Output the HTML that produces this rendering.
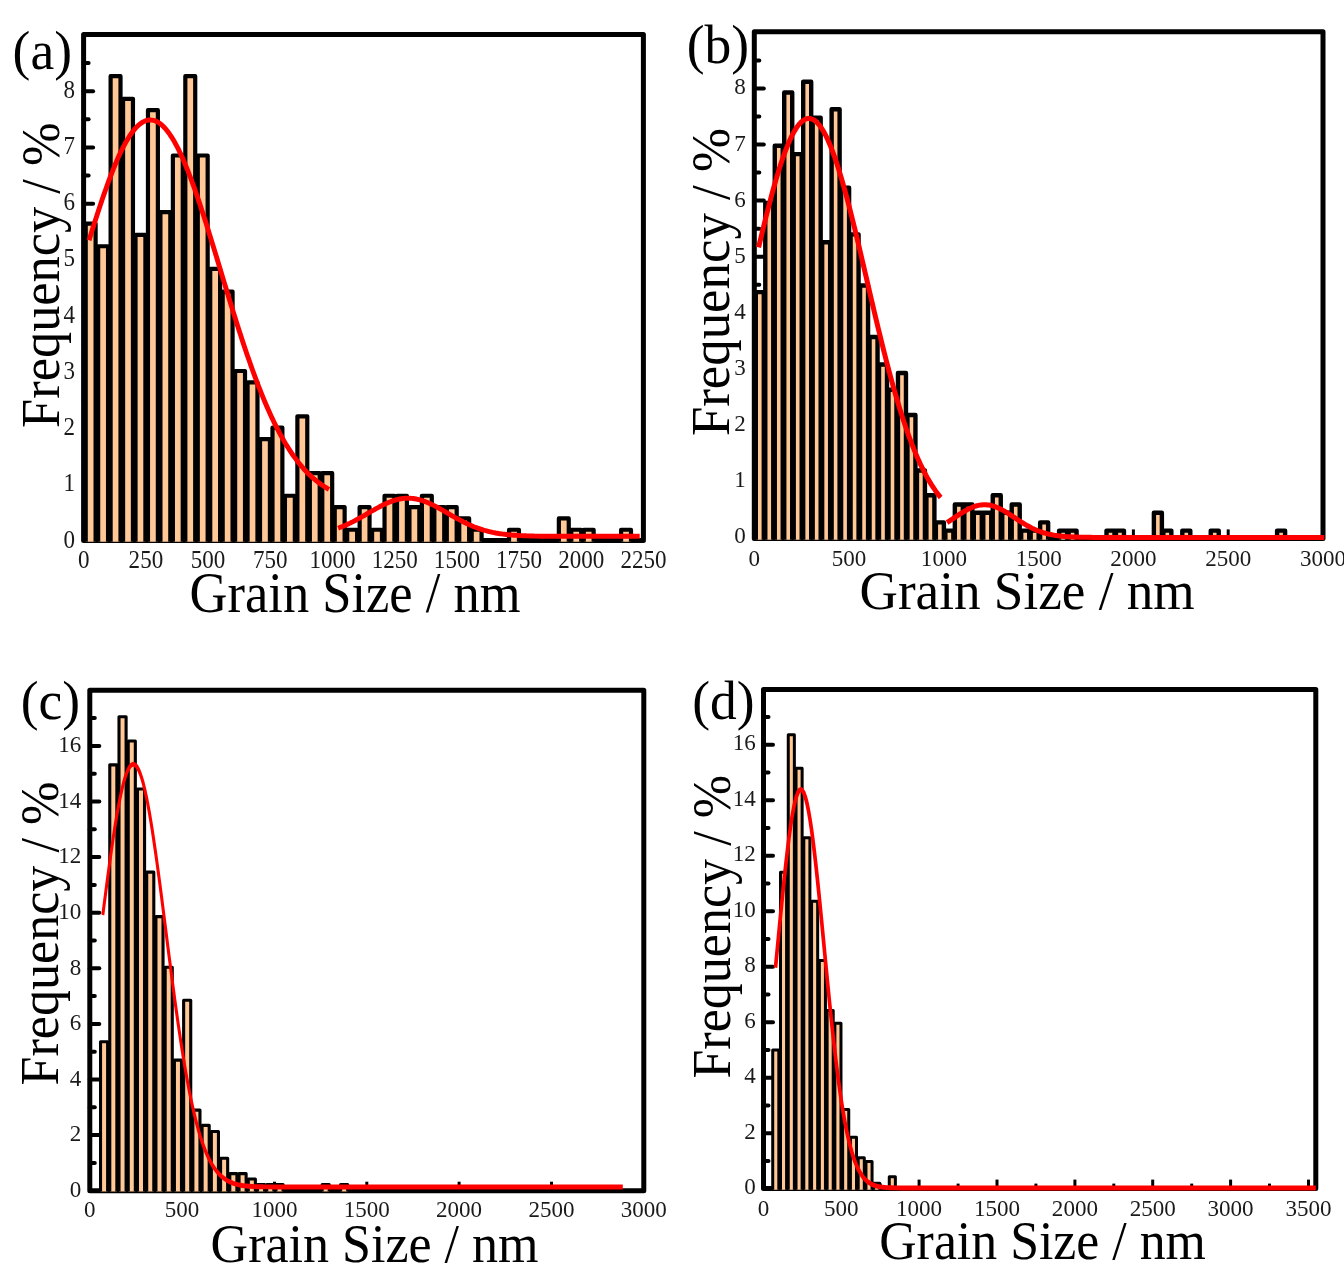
<!DOCTYPE html>
<html lang="en"><head><meta charset="utf-8"><title>Grain size distributions</title>
<style>html,body{margin:0;padding:0;background:#fff;overflow:hidden}svg{display:block}text{white-space:pre}</style>
</head><body>
<svg width="1344" height="1280" viewBox="0 0 1344 1280">
<rect width="1344" height="1280" fill="#fff"/>
<g stroke="#000" stroke-width="3" stroke-linecap="butt">
<line x1="145.9" y1="540.5" x2="145.9" y2="531.5"/>
<line x1="208.1" y1="540.5" x2="208.1" y2="531.5"/>
<line x1="270.3" y1="540.5" x2="270.3" y2="531.5"/>
<line x1="332.5" y1="540.5" x2="332.5" y2="531.5"/>
<line x1="394.7" y1="540.5" x2="394.7" y2="531.5"/>
<line x1="456.9" y1="540.5" x2="456.9" y2="531.5"/>
<line x1="519.1" y1="540.5" x2="519.1" y2="531.5"/>
<line x1="581.3" y1="540.5" x2="581.3" y2="531.5"/>
</g>
<g stroke="#000" stroke-width="4" stroke-linecap="round">
<line x1="83.6" y1="485.0" x2="93.1" y2="485.0"/>
<line x1="83.6" y1="428.7" x2="93.1" y2="428.7"/>
<line x1="83.6" y1="372.5" x2="93.1" y2="372.5"/>
<line x1="83.6" y1="316.2" x2="93.1" y2="316.2"/>
<line x1="83.6" y1="260.0" x2="93.1" y2="260.0"/>
<line x1="83.6" y1="203.7" x2="93.1" y2="203.7"/>
<line x1="83.6" y1="147.5" x2="93.1" y2="147.5"/>
<line x1="83.6" y1="91.2" x2="93.1" y2="91.2"/>
<line x1="83.6" y1="513.1" x2="88.6" y2="513.1"/>
<line x1="83.6" y1="456.8" x2="88.6" y2="456.8"/>
<line x1="83.6" y1="400.6" x2="88.6" y2="400.6"/>
<line x1="83.6" y1="344.3" x2="88.6" y2="344.3"/>
<line x1="83.6" y1="288.1" x2="88.6" y2="288.1"/>
<line x1="83.6" y1="231.8" x2="88.6" y2="231.8"/>
<line x1="83.6" y1="175.6" x2="88.6" y2="175.6"/>
<line x1="83.6" y1="119.3" x2="88.6" y2="119.3"/>
<line x1="83.6" y1="63.1" x2="88.6" y2="63.1"/>
</g>
<rect x="83.6" y="34.5" width="559.80" height="506.00" fill="none" stroke="#000" stroke-width="5.0" stroke-linejoin="round"/>
<clipPath id="clipa"><rect x="81.10" y="32.00" width="564.80" height="509.80"/></clipPath>
<g clip-path="url(#clipa)" fill="#ffc896" stroke="#000" stroke-width="4.2" stroke-linejoin="round">
<rect x="85.71" y="223.56" width="9.90" height="328.94"/>
<rect x="98.16" y="246.24" width="9.90" height="306.26"/>
<rect x="110.61" y="76.13" width="9.90" height="476.37"/>
<rect x="123.06" y="98.81" width="9.90" height="453.69"/>
<rect x="135.51" y="234.90" width="9.90" height="317.60"/>
<rect x="147.97" y="110.15" width="9.90" height="442.35"/>
<rect x="160.42" y="212.22" width="9.90" height="340.28"/>
<rect x="172.87" y="155.52" width="9.90" height="396.98"/>
<rect x="185.32" y="76.13" width="9.90" height="476.37"/>
<rect x="197.77" y="155.52" width="9.90" height="396.98"/>
<rect x="210.22" y="268.92" width="9.90" height="283.58"/>
<rect x="222.67" y="291.60" width="9.90" height="260.90"/>
<rect x="235.12" y="370.99" width="9.90" height="181.51"/>
<rect x="247.57" y="382.33" width="9.90" height="170.17"/>
<rect x="260.02" y="439.03" width="9.90" height="113.47"/>
<rect x="272.48" y="427.69" width="9.90" height="124.81"/>
<rect x="284.93" y="495.74" width="9.90" height="56.76"/>
<rect x="297.38" y="416.35" width="9.90" height="136.15"/>
<rect x="309.83" y="473.06" width="9.90" height="79.44"/>
<rect x="322.28" y="473.06" width="9.90" height="79.44"/>
<rect x="334.73" y="507.08" width="9.90" height="45.42"/>
<rect x="347.18" y="529.76" width="9.90" height="22.74"/>
<rect x="359.63" y="507.08" width="9.90" height="45.42"/>
<rect x="372.08" y="529.76" width="9.90" height="22.74"/>
<rect x="384.53" y="495.74" width="9.90" height="56.76"/>
<rect x="396.99" y="495.74" width="9.90" height="56.76"/>
<rect x="409.44" y="507.08" width="9.90" height="45.42"/>
<rect x="421.89" y="495.74" width="9.90" height="56.76"/>
<rect x="434.34" y="507.08" width="9.90" height="45.42"/>
<rect x="446.79" y="507.08" width="9.90" height="45.42"/>
<rect x="459.24" y="518.42" width="9.90" height="34.08"/>
<rect x="471.69" y="529.76" width="9.90" height="22.74"/>
<rect x="509.04" y="529.76" width="9.90" height="22.74"/>
<rect x="558.85" y="518.42" width="9.90" height="34.08"/>
<rect x="571.30" y="529.76" width="9.90" height="22.74"/>
<rect x="583.75" y="529.76" width="9.90" height="22.74"/>
<rect x="621.10" y="529.76" width="9.90" height="22.74"/>
</g>
<g transform="scale(1.0,1)" fill="none" stroke="#ff0000" stroke-width="4.9" stroke-linecap="butt" stroke-linejoin="round">
<path d="M89.10,240.3 L90.60,235.4 L92.10,230.6 L93.60,225.8 L95.10,221.1 L96.60,216.4 L98.10,211.8 L99.60,207.2 L101.10,202.7 L102.60,198.3 L104.10,193.9 L105.60,189.7 L107.10,185.5 L108.60,181.4 L110.10,177.4 L111.60,173.5 L113.10,169.7 L114.60,166.0 L116.10,162.4 L117.60,158.9 L119.10,155.6 L120.60,152.4 L122.10,149.3 L123.60,146.4 L125.10,143.6 L126.60,140.9 L128.10,138.4 L129.60,136.0 L131.10,133.8 L132.60,131.8 L134.10,129.9 L135.60,128.1 L137.10,126.5 L138.60,125.1 L140.10,123.9 L141.60,122.8 L143.10,121.9 L144.60,121.2 L146.10,120.6 L147.60,120.2 L149.10,120.0 L150.60,119.9 L152.10,120.1 L153.60,120.4 L155.10,120.8 L156.60,121.5 L158.10,122.3 L159.60,123.3 L161.10,124.4 L162.60,125.8 L164.10,127.3 L165.60,128.9 L167.10,130.7 L168.60,132.7 L170.10,134.8 L171.60,137.1 L173.10,139.6 L174.60,142.1 L176.10,144.9 L177.60,147.7 L179.10,150.7 L180.60,153.9 L182.10,157.1 L183.60,160.5 L185.10,164.1 L186.60,167.7 L188.10,171.4 L189.60,175.3 L191.10,179.2 L192.60,183.3 L194.10,187.4 L195.60,191.7 L197.10,196.0 L198.60,200.4 L200.10,204.8 L201.60,209.4 L203.10,214.0 L204.60,218.6 L206.10,223.3 L207.60,228.1 L209.10,232.9 L210.60,237.7 L212.10,242.6 L213.60,247.5 L215.10,252.4 L216.60,257.3 L218.10,262.3 L219.60,267.2 L221.10,272.2 L222.60,277.1 L224.10,282.1 L225.60,287.0 L227.10,292.0 L228.60,296.9 L230.10,301.8 L231.60,306.6 L233.10,311.5 L234.60,316.3 L236.10,321.1 L237.60,325.8 L239.10,330.5 L240.60,335.1 L242.10,339.7 L243.60,344.3 L245.10,348.7 L246.60,353.2 L248.10,357.5 L249.60,361.8 L251.10,366.1 L252.60,370.3 L254.10,374.4 L255.60,378.4 L257.10,382.4 L258.60,386.3 L260.10,390.2 L261.60,393.9 L263.10,397.6 L264.60,401.2 L266.10,404.7 L267.60,408.2 L269.10,411.6 L270.60,414.9 L272.10,418.1 L273.60,421.3 L275.10,424.3 L276.60,427.3 L278.10,430.2 L279.60,433.1 L281.10,435.8 L282.60,438.5 L284.10,441.1 L285.60,443.7 L287.10,446.1 L288.60,448.5 L290.10,450.8 L291.60,453.1 L293.10,455.3 L294.60,457.4 L296.10,459.4 L297.60,461.4 L299.10,463.3 L300.60,465.1 L302.10,466.9 L303.60,468.6 L305.10,470.3 L306.60,471.9 L308.10,473.4 L309.60,474.9 L311.10,476.3 L312.60,477.7 L314.10,479.0 L315.60,480.2 L317.10,481.4 L318.60,482.6 L320.10,483.7 L321.60,484.8 L323.10,485.8 L324.60,486.8 L326.10,487.7 L327.60,488.6 L329.00,489.4"/>
<path d="M338.10,528.2 L339.60,527.6 L341.10,527.0 L342.60,526.4 L344.10,525.8 L345.60,525.2 L347.10,524.5 L348.60,523.8 L350.10,523.1 L351.60,522.3 L353.10,521.6 L354.60,520.8 L356.10,520.0 L357.60,519.2 L359.10,518.4 L360.60,517.5 L362.10,516.7 L363.60,515.8 L365.10,515.0 L366.60,514.1 L368.10,513.2 L369.60,512.4 L371.10,511.5 L372.60,510.6 L374.10,509.8 L375.60,508.9 L377.10,508.1 L378.60,507.3 L380.10,506.5 L381.60,505.7 L383.10,504.9 L384.60,504.2 L386.10,503.5 L387.60,502.9 L389.10,502.2 L390.60,501.7 L392.10,501.1 L393.60,500.6 L395.10,500.1 L396.60,499.7 L398.10,499.3 L399.60,499.0 L401.10,498.8 L402.60,498.5 L404.10,498.4 L405.60,498.3 L407.10,498.2 L408.60,498.2 L410.10,498.3 L411.60,498.4 L413.10,498.5 L414.60,498.7 L416.10,499.0 L417.60,499.3 L419.10,499.7 L420.60,500.1 L422.10,500.5 L423.60,501.1 L425.10,501.6 L426.60,502.2 L428.10,502.8 L429.60,503.5 L431.10,504.2 L432.60,504.9 L434.10,505.6 L435.60,506.4 L437.10,507.2 L438.60,508.0 L440.10,508.8 L441.60,509.7 L443.10,510.5 L444.60,511.4 L446.10,512.3 L447.60,513.2 L449.10,514.0 L450.60,514.9 L452.10,515.8 L453.60,516.6 L455.10,517.5 L456.60,518.3 L458.10,519.1 L459.60,519.9 L461.10,520.7 L462.60,521.5 L464.10,522.3 L465.60,523.0 L467.10,523.7 L468.60,524.4 L470.10,525.1 L471.60,525.7 L473.10,526.4 L474.60,527.0 L476.10,527.5 L477.60,528.1 L479.10,528.6 L480.60,529.1 L482.10,529.6 L483.60,530.1 L485.10,530.5 L486.60,530.9 L488.10,531.3 L489.60,531.7 L491.10,532.0 L492.60,532.4 L494.10,532.7 L495.60,533.0 L497.10,533.2 L498.60,533.5 L500.10,533.7 L501.60,533.9 L503.10,534.1 L504.60,534.3 L506.10,534.5 L507.60,534.7 L509.10,534.8 L510.60,534.9 L512.10,535.1 L513.60,535.2 L515.10,535.3 L516.60,535.4 L518.10,535.5 L519.60,535.6 L521.10,535.6 L522.60,535.7 L524.10,535.8 L525.60,535.8 L527.10,535.9 L528.60,535.9 L530.10,536.0 L531.60,536.0 L533.10,536.0 L534.60,536.1 L536.10,536.1 L537.60,536.1 L539.10,536.1 L540.60,536.2 L542.10,536.2 L543.60,536.2 L545.10,536.2 L546.60,536.2 L548.10,536.2 L549.60,536.2 L551.10,536.2 L552.60,536.2 L554.10,536.3 L555.60,536.3 L557.10,536.3 L558.60,536.3 L560.10,536.3 L561.60,536.3 L563.10,536.3 L564.60,536.3 L566.10,536.3 L567.60,536.3 L569.10,536.3 L570.60,536.3 L572.10,536.3 L573.60,536.3 L575.10,536.3 L576.60,536.3 L578.10,536.3 L579.60,536.3 L581.10,536.3 L582.60,536.3 L584.10,536.3 L585.60,536.3 L587.10,536.3 L588.60,536.3 L590.10,536.3 L591.60,536.3 L593.10,536.3 L594.60,536.3 L596.10,536.3 L597.60,536.3 L599.10,536.3 L600.60,536.3 L602.10,536.3 L603.60,536.3 L605.10,536.3 L606.60,536.3 L608.10,536.3 L609.60,536.3 L611.10,536.3 L612.60,536.3 L614.10,536.3 L615.60,536.3 L617.10,536.3 L618.60,536.3 L620.10,536.3 L621.60,536.3 L623.10,536.3 L624.60,536.3 L626.10,536.3 L627.60,536.3 L629.10,536.3 L630.60,536.3 L632.10,536.3 L633.60,536.3 L635.10,536.3 L636.60,536.3 L638.10,536.3 L639.60,536.3 L639.70,536.3"/>
</g>
<g font-family='"Liberation Serif", serif' font-size="23.4" fill="#1a1a1a">
<text transform="translate(75.1,547.5) scale(0.985,1.04)" text-anchor="end">0</text>
<text transform="translate(75.1,491.3) scale(0.985,1.04)" text-anchor="end">1</text>
<text transform="translate(75.1,435.0) scale(0.985,1.04)" text-anchor="end">2</text>
<text transform="translate(75.1,378.8) scale(0.985,1.04)" text-anchor="end">3</text>
<text transform="translate(75.1,322.5) scale(0.985,1.04)" text-anchor="end">4</text>
<text transform="translate(75.1,266.3) scale(0.985,1.04)" text-anchor="end">5</text>
<text transform="translate(75.1,210.0) scale(0.985,1.04)" text-anchor="end">6</text>
<text transform="translate(75.1,153.8) scale(0.985,1.04)" text-anchor="end">7</text>
<text transform="translate(75.1,97.5) scale(0.985,1.04)" text-anchor="end">8</text>
<text transform="translate(83.7,568.3) scale(0.985,1.04)" text-anchor="middle">0</text>
<text transform="translate(145.9,568.3) scale(0.985,1.04)" text-anchor="middle">250</text>
<text transform="translate(208.1,568.3) scale(0.985,1.04)" text-anchor="middle">500</text>
<text transform="translate(270.3,568.3) scale(0.985,1.04)" text-anchor="middle">750</text>
<text transform="translate(332.5,568.3) scale(0.985,1.04)" text-anchor="middle">1000</text>
<text transform="translate(394.7,568.3) scale(0.985,1.04)" text-anchor="middle">1250</text>
<text transform="translate(456.9,568.3) scale(0.985,1.04)" text-anchor="middle">1500</text>
<text transform="translate(519.1,568.3) scale(0.985,1.04)" text-anchor="middle">1750</text>
<text transform="translate(581.3,568.3) scale(0.985,1.04)" text-anchor="middle">2000</text>
<text transform="translate(643.5,568.3) scale(0.985,1.04)" text-anchor="middle">2250</text>
</g>
<text transform="translate(12.6,68.5) scale(1,1.0125)" font-family='"Liberation Serif", serif' font-size="53.5" text-anchor="start" fill="#000">(a)</text>
<text transform="translate(189.6,611.8) scale(1.002,1.085)" font-family='"Liberation Serif", serif' font-size="52.4" text-anchor="start" fill="#000">Grain Size / nm</text>
<text transform="translate(58.8,427.9) rotate(-90) scale(1.0,1.03)" font-family='"Liberation Serif", serif' font-size="52.4" text-anchor="start" fill="#000">Frequency / %</text>
<g stroke="#000" stroke-width="3" stroke-linecap="butt">
<line x1="849.1" y1="538.4" x2="849.1" y2="529.4"/>
<line x1="943.9" y1="538.4" x2="943.9" y2="529.4"/>
<line x1="1038.7" y1="538.4" x2="1038.7" y2="529.4"/>
<line x1="1133.4" y1="538.4" x2="1133.4" y2="529.4"/>
<line x1="1228.2" y1="538.4" x2="1228.2" y2="529.4"/>
</g>
<g stroke="#000" stroke-width="4" stroke-linecap="round">
<line x1="754.3" y1="481.1" x2="763.8" y2="481.1"/>
<line x1="754.3" y1="425.0" x2="763.8" y2="425.0"/>
<line x1="754.3" y1="368.9" x2="763.8" y2="368.9"/>
<line x1="754.3" y1="312.8" x2="763.8" y2="312.8"/>
<line x1="754.3" y1="256.7" x2="763.8" y2="256.7"/>
<line x1="754.3" y1="200.6" x2="763.8" y2="200.6"/>
<line x1="754.3" y1="144.5" x2="763.8" y2="144.5"/>
<line x1="754.3" y1="88.4" x2="763.8" y2="88.4"/>
<line x1="754.3" y1="509.2" x2="759.3" y2="509.2"/>
<line x1="754.3" y1="453.1" x2="759.3" y2="453.1"/>
<line x1="754.3" y1="397.0" x2="759.3" y2="397.0"/>
<line x1="754.3" y1="340.9" x2="759.3" y2="340.9"/>
<line x1="754.3" y1="284.8" x2="759.3" y2="284.8"/>
<line x1="754.3" y1="228.7" x2="759.3" y2="228.7"/>
<line x1="754.3" y1="172.6" x2="759.3" y2="172.6"/>
<line x1="754.3" y1="116.5" x2="759.3" y2="116.5"/>
<line x1="754.3" y1="60.4" x2="759.3" y2="60.4"/>
</g>
<rect x="754.3" y="31.8" width="568.70" height="506.60" fill="none" stroke="#000" stroke-width="5.0" stroke-linejoin="round"/>
<clipPath id="clipb"><rect x="751.80" y="29.30" width="573.70" height="510.40"/></clipPath>
<g clip-path="url(#clipb)" fill="#ffc896" stroke="#000" stroke-width="4.4" stroke-linejoin="round">
<rect x="755.80" y="292.17" width="8.00" height="258.23"/>
<rect x="765.28" y="202.97" width="8.00" height="347.43"/>
<rect x="774.76" y="145.74" width="8.00" height="404.66"/>
<rect x="784.23" y="92.45" width="8.00" height="457.95"/>
<rect x="793.71" y="154.16" width="8.00" height="396.24"/>
<rect x="803.19" y="81.79" width="8.00" height="468.61"/>
<rect x="812.67" y="117.69" width="8.00" height="432.71"/>
<rect x="822.15" y="242.24" width="8.00" height="308.16"/>
<rect x="831.62" y="109.28" width="8.00" height="441.12"/>
<rect x="841.10" y="187.82" width="8.00" height="362.58"/>
<rect x="850.58" y="234.38" width="8.00" height="316.02"/>
<rect x="860.06" y="285.43" width="8.00" height="264.97"/>
<rect x="869.54" y="337.05" width="8.00" height="213.35"/>
<rect x="879.01" y="364.53" width="8.00" height="185.87"/>
<rect x="888.49" y="389.78" width="8.00" height="160.62"/>
<rect x="897.97" y="372.95" width="8.00" height="177.45"/>
<rect x="907.45" y="415.02" width="8.00" height="135.38"/>
<rect x="916.93" y="470.56" width="8.00" height="79.84"/>
<rect x="926.40" y="495.19" width="8.00" height="55.21"/>
<rect x="935.88" y="522.40" width="8.00" height="28.00"/>
<rect x="945.36" y="530.59" width="8.00" height="19.81"/>
<rect x="954.84" y="504.50" width="8.00" height="45.90"/>
<rect x="964.32" y="504.50" width="8.00" height="45.90"/>
<rect x="973.79" y="512.69" width="8.00" height="37.71"/>
<rect x="983.27" y="512.69" width="8.00" height="37.71"/>
<rect x="992.75" y="495.19" width="8.00" height="55.21"/>
<rect x="1002.23" y="512.69" width="8.00" height="37.71"/>
<rect x="1011.71" y="504.50" width="8.00" height="45.90"/>
<rect x="1021.18" y="530.59" width="8.00" height="19.81"/>
<rect x="1030.66" y="530.59" width="8.00" height="19.81"/>
<rect x="1040.14" y="522.40" width="8.00" height="28.00"/>
<rect x="1059.10" y="530.59" width="8.00" height="19.81"/>
<rect x="1068.57" y="530.59" width="8.00" height="19.81"/>
<rect x="1106.49" y="530.59" width="8.00" height="19.81"/>
<rect x="1115.96" y="530.59" width="8.00" height="19.81"/>
<rect x="1153.88" y="512.69" width="8.00" height="37.71"/>
<rect x="1163.35" y="530.59" width="8.00" height="19.81"/>
<rect x="1182.31" y="530.59" width="8.00" height="19.81"/>
<rect x="1210.74" y="530.59" width="8.00" height="19.81"/>
<rect x="1277.09" y="530.59" width="8.00" height="19.81"/>
</g>
<g transform="scale(1.0,1)" fill="none" stroke="#ff0000" stroke-width="5.0" stroke-linecap="butt" stroke-linejoin="round">
<path d="M758.60,247.4 L760.10,241.1 L761.60,234.8 L763.10,228.6 L764.60,222.5 L766.10,216.5 L767.60,210.6 L769.10,204.8 L770.60,199.1 L772.10,193.5 L773.60,188.0 L775.10,182.7 L776.60,177.6 L778.10,172.6 L779.60,167.8 L781.10,163.1 L782.60,158.7 L784.10,154.4 L785.60,150.4 L787.10,146.6 L788.60,142.9 L790.10,139.6 L791.60,136.4 L793.10,133.5 L794.60,130.8 L796.10,128.4 L797.60,126.2 L799.10,124.3 L800.60,122.7 L802.10,121.3 L803.60,120.2 L805.10,119.4 L806.60,118.8 L808.10,118.5 L809.60,118.5 L811.10,118.8 L812.60,119.3 L814.10,120.2 L815.60,121.2 L817.10,122.6 L818.60,124.2 L820.10,126.1 L821.60,128.2 L823.10,130.6 L824.60,133.3 L826.10,136.2 L827.60,139.3 L829.10,142.7 L830.60,146.3 L832.10,150.1 L833.60,154.2 L835.10,158.4 L836.60,162.8 L838.10,167.5 L839.60,172.3 L841.10,177.2 L842.60,182.4 L844.10,187.7 L845.60,193.1 L847.10,198.7 L848.60,204.4 L850.10,210.2 L851.60,216.1 L853.10,222.1 L854.60,228.2 L856.10,234.4 L857.60,240.6 L859.10,246.9 L860.60,253.3 L862.10,259.7 L863.60,266.1 L865.10,272.5 L866.60,278.9 L868.10,285.4 L869.60,291.8 L871.10,298.2 L872.60,304.6 L874.10,311.0 L875.60,317.3 L877.10,323.6 L878.60,329.8 L880.10,335.9 L881.60,342.0 L883.10,348.1 L884.60,354.0 L886.10,359.9 L887.60,365.6 L889.10,371.3 L890.60,376.9 L892.10,382.4 L893.60,387.8 L895.10,393.0 L896.60,398.2 L898.10,403.3 L899.60,408.2 L901.10,413.0 L902.60,417.7 L904.10,422.3 L905.60,426.7 L907.10,431.1 L908.60,435.3 L910.10,439.4 L911.60,443.3 L913.10,447.2 L914.60,450.9 L916.10,454.5 L917.60,458.0 L919.10,461.3 L920.60,464.6 L922.10,467.7 L923.60,470.7 L925.10,473.6 L926.60,476.4 L928.10,479.1 L929.60,481.6 L931.10,484.1 L932.60,486.5 L934.10,488.7 L935.60,490.9 L937.10,492.9 L938.60,494.9 L940.10,496.8 L940.70,497.5"/>
<path d="M947.00,522.5 L948.50,521.6 L950.00,520.6 L951.50,519.6 L953.00,518.7 L954.50,517.7 L956.00,516.7 L957.50,515.7 L959.00,514.7 L960.50,513.7 L962.00,512.8 L963.50,511.9 L965.00,511.0 L966.50,510.1 L968.00,509.3 L969.50,508.6 L971.00,507.9 L972.50,507.2 L974.00,506.7 L975.50,506.2 L977.00,505.7 L978.50,505.4 L980.00,505.1 L981.50,504.9 L983.00,504.7 L984.50,504.7 L986.00,504.7 L987.50,504.9 L989.00,505.1 L990.50,505.3 L992.00,505.7 L993.50,506.1 L995.00,506.6 L996.50,507.2 L998.00,507.9 L999.50,508.5 L1001.00,509.3 L1002.50,510.1 L1004.00,510.9 L1005.50,511.8 L1007.00,512.7 L1008.50,513.7 L1010.00,514.6 L1011.50,515.6 L1013.00,516.6 L1014.50,517.6 L1016.00,518.6 L1017.50,519.6 L1019.00,520.6 L1020.50,521.5 L1022.00,522.5 L1023.50,523.4 L1025.00,524.3 L1026.50,525.2 L1028.00,526.0 L1029.50,526.8 L1031.00,527.6 L1032.50,528.4 L1034.00,529.1 L1035.50,529.7 L1037.00,530.4 L1038.50,531.0 L1040.00,531.5 L1041.50,532.1 L1043.00,532.6 L1044.50,533.0 L1046.00,533.4 L1047.50,533.8 L1049.00,534.2 L1050.50,534.5 L1052.00,534.8 L1053.50,535.1 L1055.00,535.4 L1056.50,535.6 L1058.00,535.8 L1059.50,536.0 L1061.00,536.2 L1062.50,536.3 L1064.00,536.4 L1065.50,536.6 L1067.00,536.7 L1068.50,536.8 L1070.00,536.8 L1071.50,536.9 L1073.00,537.0 L1074.50,537.0 L1076.00,537.1 L1077.50,537.1 L1079.00,537.2 L1080.50,537.2 L1082.00,537.2 L1083.50,537.3 L1085.00,537.3 L1086.50,537.3 L1088.00,537.3 L1089.50,537.3 L1091.00,537.3 L1092.50,537.4 L1094.00,537.4 L1095.50,537.4 L1097.00,537.4 L1098.50,537.4 L1100.00,537.4 L1101.50,537.4 L1103.00,537.4 L1104.50,537.4 L1106.00,537.4 L1107.50,537.4 L1109.00,537.4 L1110.50,537.4 L1112.00,537.4 L1113.50,537.4 L1115.00,537.4 L1116.50,537.4 L1118.00,537.4 L1119.50,537.4 L1121.00,537.4 L1122.50,537.4 L1124.00,537.4 L1125.50,537.4 L1127.00,537.4 L1128.50,537.4 L1130.00,537.4 L1131.50,537.4 L1133.00,537.4 L1134.50,537.4 L1136.00,537.4 L1137.50,537.4 L1139.00,537.4 L1140.50,537.4 L1142.00,537.4 L1143.50,537.4 L1145.00,537.4 L1146.50,537.4 L1148.00,537.4 L1149.50,537.4 L1151.00,537.4 L1152.50,537.4 L1154.00,537.4 L1155.50,537.4 L1157.00,537.4 L1158.50,537.4 L1160.00,537.4 L1161.50,537.4 L1163.00,537.4 L1164.50,537.4 L1166.00,537.4 L1167.50,537.4 L1169.00,537.4 L1170.50,537.4 L1172.00,537.4 L1173.50,537.4 L1175.00,537.4 L1176.50,537.4 L1178.00,537.4 L1179.50,537.4 L1181.00,537.4 L1182.50,537.4 L1184.00,537.4 L1185.50,537.4 L1187.00,537.4 L1188.50,537.4 L1190.00,537.4 L1191.50,537.4 L1193.00,537.4 L1194.50,537.4 L1196.00,537.4 L1197.50,537.4 L1199.00,537.4 L1200.50,537.4 L1202.00,537.4 L1203.50,537.4 L1205.00,537.4 L1206.50,537.4 L1208.00,537.4 L1209.50,537.4 L1211.00,537.4 L1212.50,537.4 L1214.00,537.4 L1215.50,537.4 L1217.00,537.4 L1218.50,537.4 L1220.00,537.4 L1221.50,537.4 L1223.00,537.4 L1224.50,537.4 L1226.00,537.4 L1227.50,537.4 L1229.00,537.4 L1230.50,537.4 L1232.00,537.4 L1233.50,537.4 L1235.00,537.4 L1236.50,537.4 L1238.00,537.4 L1239.50,537.4 L1241.00,537.4 L1242.50,537.4 L1244.00,537.4 L1245.50,537.4 L1247.00,537.4 L1248.50,537.4 L1250.00,537.4 L1251.50,537.4 L1253.00,537.4 L1254.50,537.4 L1256.00,537.4 L1257.50,537.4 L1259.00,537.4 L1260.50,537.4 L1262.00,537.4 L1263.50,537.4 L1265.00,537.4 L1266.50,537.4 L1268.00,537.4 L1269.50,537.4 L1271.00,537.4 L1272.50,537.4 L1274.00,537.4 L1275.50,537.4 L1277.00,537.4 L1278.50,537.4 L1280.00,537.4 L1281.50,537.4 L1283.00,537.4 L1284.50,537.4 L1286.00,537.4 L1287.50,537.4 L1289.00,537.4 L1290.50,537.4 L1292.00,537.4 L1293.50,537.4 L1295.00,537.4 L1296.50,537.4 L1298.00,537.4 L1299.50,537.4 L1301.00,537.4 L1302.50,537.4 L1304.00,537.4 L1305.50,537.4 L1307.00,537.4 L1308.50,537.4 L1310.00,537.4 L1311.50,537.4 L1313.00,537.4 L1314.50,537.4 L1316.00,537.4 L1317.50,537.4 L1319.00,537.4 L1320.50,537.4 L1322.00,537.4 L1323.50,537.4 L1324.30,537.4"/>
</g>
<g font-family='"Liberation Serif", serif' font-size="23.4" fill="#1a1a1a">
<text transform="translate(745.8,543.2) scale(0.985,0.98)" text-anchor="end">0</text>
<text transform="translate(745.8,487.1) scale(0.985,0.98)" text-anchor="end">1</text>
<text transform="translate(745.8,431.0) scale(0.985,0.98)" text-anchor="end">2</text>
<text transform="translate(745.8,374.9) scale(0.985,0.98)" text-anchor="end">3</text>
<text transform="translate(745.8,318.8) scale(0.985,0.98)" text-anchor="end">4</text>
<text transform="translate(745.8,262.7) scale(0.985,0.98)" text-anchor="end">5</text>
<text transform="translate(745.8,206.6) scale(0.985,0.98)" text-anchor="end">6</text>
<text transform="translate(745.8,150.5) scale(0.985,0.98)" text-anchor="end">7</text>
<text transform="translate(745.8,94.4) scale(0.985,0.98)" text-anchor="end">8</text>
<text transform="translate(754.3,566.2) scale(0.985,1.03)" text-anchor="middle">0</text>
<text transform="translate(849.1,566.2) scale(0.985,1.03)" text-anchor="middle">500</text>
<text transform="translate(943.9,566.2) scale(0.985,1.03)" text-anchor="middle">1000</text>
<text transform="translate(1038.7,566.2) scale(0.985,1.03)" text-anchor="middle">1500</text>
<text transform="translate(1133.4,566.2) scale(0.985,1.03)" text-anchor="middle">2000</text>
<text transform="translate(1228.2,566.2) scale(0.985,1.03)" text-anchor="middle">2500</text>
<text transform="translate(1323.0,566.2) scale(0.985,1.03)" text-anchor="middle">3000</text>
</g>
<text transform="translate(686.7,63.3) scale(1,1.0125)" font-family='"Liberation Serif", serif' font-size="53.5" text-anchor="start" fill="#000">(b)</text>
<text transform="translate(859.5,608.7) scale(1.015,1.065)" font-family='"Liberation Serif", serif' font-size="52.4" text-anchor="start" fill="#000">Grain Size / nm</text>
<text transform="translate(729.0,436.1) rotate(-90) scale(1.008,1.04)" font-family='"Liberation Serif", serif' font-size="52.4" text-anchor="start" fill="#000">Frequency / %</text>
<g stroke="#000" stroke-width="3" stroke-linecap="butt">
<line x1="182.1" y1="1190.7" x2="182.1" y2="1181.7"/>
<line x1="274.5" y1="1190.7" x2="274.5" y2="1181.7"/>
<line x1="366.8" y1="1190.7" x2="366.8" y2="1181.7"/>
<line x1="459.1" y1="1190.7" x2="459.1" y2="1181.7"/>
<line x1="551.5" y1="1190.7" x2="551.5" y2="1181.7"/>
</g>
<g stroke="#000" stroke-width="4" stroke-linecap="round">
<line x1="89.8" y1="1135.1" x2="99.3" y2="1135.1"/>
<line x1="89.8" y1="1079.5" x2="99.3" y2="1079.5"/>
<line x1="89.8" y1="1023.9" x2="99.3" y2="1023.9"/>
<line x1="89.8" y1="968.3" x2="99.3" y2="968.3"/>
<line x1="89.8" y1="912.7" x2="99.3" y2="912.7"/>
<line x1="89.8" y1="857.1" x2="99.3" y2="857.1"/>
<line x1="89.8" y1="801.5" x2="99.3" y2="801.5"/>
<line x1="89.8" y1="745.9" x2="99.3" y2="745.9"/>
<line x1="89.8" y1="1162.9" x2="94.8" y2="1162.9"/>
<line x1="89.8" y1="1107.3" x2="94.8" y2="1107.3"/>
<line x1="89.8" y1="1051.7" x2="94.8" y2="1051.7"/>
<line x1="89.8" y1="996.1" x2="94.8" y2="996.1"/>
<line x1="89.8" y1="940.5" x2="94.8" y2="940.5"/>
<line x1="89.8" y1="884.9" x2="94.8" y2="884.9"/>
<line x1="89.8" y1="829.3" x2="94.8" y2="829.3"/>
<line x1="89.8" y1="773.7" x2="94.8" y2="773.7"/>
<line x1="89.8" y1="718.1" x2="94.8" y2="718.1"/>
</g>
<rect x="89.8" y="690.35" width="554.00" height="500.35" fill="none" stroke="#000" stroke-width="5.0" stroke-linejoin="round"/>
<clipPath id="clipc"><rect x="87.30" y="687.85" width="559.00" height="503.55"/></clipPath>
<g clip-path="url(#clipc)" fill="#ffc896" stroke="#000" stroke-width="3.1" stroke-linejoin="round">
<rect x="100.53" y="1041.73" width="7.10" height="160.97"/>
<rect x="109.77" y="764.84" width="7.10" height="437.86"/>
<rect x="119.00" y="716.75" width="7.10" height="485.95"/>
<rect x="128.23" y="740.94" width="7.10" height="461.76"/>
<rect x="137.47" y="789.03" width="7.10" height="413.67"/>
<rect x="146.70" y="872.15" width="7.10" height="330.55"/>
<rect x="155.93" y="916.63" width="7.10" height="286.07"/>
<rect x="165.17" y="967.23" width="7.10" height="235.47"/>
<rect x="174.40" y="1060.08" width="7.10" height="142.62"/>
<rect x="183.63" y="1000.31" width="7.10" height="202.39"/>
<rect x="192.87" y="1110.12" width="7.10" height="92.58"/>
<rect x="202.10" y="1125.41" width="7.10" height="77.29"/>
<rect x="211.34" y="1131.53" width="7.10" height="71.17"/>
<rect x="220.57" y="1158.21" width="7.10" height="44.49"/>
<rect x="229.80" y="1173.64" width="7.10" height="29.06"/>
<rect x="239.04" y="1173.64" width="7.10" height="29.06"/>
<rect x="248.27" y="1179.06" width="7.10" height="23.64"/>
<rect x="257.50" y="1184.62" width="7.10" height="18.08"/>
<rect x="266.74" y="1184.62" width="7.10" height="18.08"/>
<rect x="275.97" y="1184.62" width="7.10" height="18.08"/>
<rect x="322.14" y="1184.62" width="7.10" height="18.08"/>
<rect x="340.60" y="1184.62" width="7.10" height="18.08"/>
</g>
<g transform="scale(0.62,1)" fill="none" stroke="#ff0000" stroke-width="4.9" stroke-linecap="butt" stroke-linejoin="round">
<path d="M165.81,915.0 L168.23,903.3 L170.65,891.7 L173.06,880.2 L175.48,869.0 L177.90,858.1 L180.32,847.5 L182.74,837.3 L185.16,827.6 L187.58,818.4 L190.00,809.8 L192.42,801.8 L194.84,794.5 L197.26,787.9 L199.68,782.0 L202.10,776.9 L204.52,772.6 L206.94,769.2 L209.35,766.7 L211.77,765.0 L214.19,764.3 L216.61,764.4 L219.03,765.4 L221.45,767.3 L223.87,770.1 L226.29,773.8 L228.71,778.3 L231.13,783.6 L233.55,789.7 L235.97,796.6 L238.39,804.1 L240.81,812.3 L243.23,821.1 L245.65,830.4 L248.06,840.3 L250.48,850.6 L252.90,861.2 L255.32,872.3 L257.74,883.5 L260.16,895.1 L262.58,906.7 L265.00,918.5 L267.42,930.3 L269.84,942.2 L272.26,953.9 L274.68,965.6 L277.10,977.2 L279.52,988.5 L281.94,999.7 L284.35,1010.6 L286.77,1021.2 L289.19,1031.5 L291.61,1041.5 L294.03,1051.1 L296.45,1060.4 L298.87,1069.3 L301.29,1077.8 L303.71,1085.9 L306.13,1093.6 L308.55,1100.8 L310.97,1107.7 L313.39,1114.2 L315.81,1120.3 L318.23,1126.1 L320.65,1131.4 L323.06,1136.4 L325.48,1141.0 L327.90,1145.3 L330.32,1149.3 L332.74,1153.0 L335.16,1156.4 L337.58,1159.5 L340.00,1162.3 L342.42,1164.9 L344.84,1167.3 L347.26,1169.4 L349.68,1171.4 L352.10,1173.1 L354.52,1174.7 L356.94,1176.2 L359.35,1177.4 L361.77,1178.6 L364.19,1179.6 L366.61,1180.5 L369.03,1181.3 L371.45,1182.1 L373.87,1182.7 L376.29,1183.3 L378.71,1183.8 L381.13,1184.2 L383.55,1184.6 L385.97,1184.9 L388.39,1185.2 L390.81,1185.5 L393.23,1185.7 L395.65,1185.9 L398.06,1186.0 L400.48,1186.2 L402.90,1186.3 L405.32,1186.4 L407.74,1186.5 L410.16,1186.6 L412.58,1186.7 L415.00,1186.7 L417.42,1186.8 L419.84,1186.8 L422.26,1186.8 L424.68,1186.9 L427.10,1186.9 L429.52,1186.9 L431.94,1186.9 L434.35,1186.9 L436.77,1186.9 L439.19,1187.0 L441.61,1187.0 L444.03,1187.0 L446.45,1187.0 L448.87,1187.0 L451.29,1187.0 L453.71,1187.0 L456.13,1187.0 L458.55,1187.0 L460.97,1187.0 L463.39,1187.0 L465.81,1187.0 L468.23,1187.0 L470.65,1187.0 L473.06,1187.0 L475.48,1187.0 L477.90,1187.0 L480.32,1187.0 L482.74,1187.0 L485.16,1187.0 L487.58,1187.0 L490.00,1187.0 L492.42,1187.0 L494.84,1187.0 L497.26,1187.0 L499.68,1187.0 L502.10,1187.0 L504.52,1187.0 L506.94,1187.0 L509.35,1187.0 L511.77,1187.0 L514.19,1187.0 L516.61,1187.0 L519.03,1187.0 L521.45,1187.0 L523.87,1187.0 L526.29,1187.0 L528.71,1187.0 L531.13,1187.0 L533.55,1187.0 L535.97,1187.0 L538.39,1187.0 L540.81,1187.0 L543.23,1187.0 L545.65,1187.0 L548.06,1187.0 L550.48,1187.0 L552.90,1187.0 L555.32,1187.0 L557.74,1187.0 L560.16,1187.0 L562.58,1187.0 L565.00,1187.0 L567.42,1187.0 L569.84,1187.0 L572.26,1187.0 L574.68,1187.0 L577.10,1187.0 L579.52,1187.0 L581.94,1187.0 L584.35,1187.0 L586.77,1187.0 L589.19,1187.0 L591.61,1187.0 L594.03,1187.0 L596.45,1187.0 L598.87,1187.0 L601.29,1187.0 L603.71,1187.0 L606.13,1187.0 L608.55,1187.0 L610.97,1187.0 L613.39,1187.0 L615.81,1187.0 L618.23,1187.0 L620.65,1187.0 L623.06,1187.0 L625.48,1187.0 L627.90,1187.0 L630.32,1187.0 L632.74,1187.0 L635.16,1187.0 L637.58,1187.0 L640.00,1187.0 L642.42,1187.0 L644.84,1187.0 L647.26,1187.0 L649.68,1187.0 L652.10,1187.0 L654.52,1187.0 L656.94,1187.0 L659.35,1187.0 L661.77,1187.0 L664.19,1187.0 L666.61,1187.0 L669.03,1187.0 L671.45,1187.0 L673.87,1187.0 L676.29,1187.0 L678.71,1187.0 L681.13,1187.0 L683.55,1187.0 L685.97,1187.0 L688.39,1187.0 L690.81,1187.0 L693.23,1187.0 L695.65,1187.0 L698.06,1187.0 L700.48,1187.0 L702.90,1187.0 L705.32,1187.0 L707.74,1187.0 L710.16,1187.0 L712.58,1187.0 L715.00,1187.0 L717.42,1187.0 L719.84,1187.0 L722.26,1187.0 L724.68,1187.0 L727.10,1187.0 L729.52,1187.0 L731.94,1187.0 L734.35,1187.0 L736.77,1187.0 L739.19,1187.0 L741.61,1187.0 L744.03,1187.0 L746.45,1187.0 L748.87,1187.0 L751.29,1187.0 L753.71,1187.0 L756.13,1187.0 L758.55,1187.0 L760.97,1187.0 L763.39,1187.0 L765.81,1187.0 L768.23,1187.0 L770.65,1187.0 L773.06,1187.0 L775.48,1187.0 L777.90,1187.0 L780.32,1187.0 L782.74,1187.0 L785.16,1187.0 L787.58,1187.0 L790.00,1187.0 L792.42,1187.0 L794.84,1187.0 L797.26,1187.0 L799.68,1187.0 L802.10,1187.0 L804.52,1187.0 L806.94,1187.0 L809.35,1187.0 L811.77,1187.0 L814.19,1187.0 L816.61,1187.0 L819.03,1187.0 L821.45,1187.0 L823.87,1187.0 L826.29,1187.0 L828.71,1187.0 L831.13,1187.0 L833.55,1187.0 L835.97,1187.0 L838.39,1187.0 L840.81,1187.0 L843.23,1187.0 L845.65,1187.0 L848.06,1187.0 L850.48,1187.0 L852.90,1187.0 L855.32,1187.0 L857.74,1187.0 L860.16,1187.0 L862.58,1187.0 L865.00,1187.0 L867.42,1187.0 L869.84,1187.0 L872.26,1187.0 L874.68,1187.0 L877.10,1187.0 L879.52,1187.0 L881.94,1187.0 L884.35,1187.0 L886.77,1187.0 L889.19,1187.0 L891.61,1187.0 L894.03,1187.0 L896.45,1187.0 L898.87,1187.0 L901.29,1187.0 L903.71,1187.0 L906.13,1187.0 L908.55,1187.0 L910.97,1187.0 L913.39,1187.0 L915.81,1187.0 L918.23,1187.0 L920.65,1187.0 L923.06,1187.0 L925.48,1187.0 L927.90,1187.0 L930.32,1187.0 L932.74,1187.0 L935.16,1187.0 L937.58,1187.0 L940.00,1187.0 L942.42,1187.0 L944.84,1187.0 L947.26,1187.0 L949.68,1187.0 L952.10,1187.0 L954.52,1187.0 L956.94,1187.0 L959.35,1187.0 L961.77,1187.0 L964.19,1187.0 L966.61,1187.0 L969.03,1187.0 L971.45,1187.0 L973.87,1187.0 L976.29,1187.0 L978.71,1187.0 L981.13,1187.0 L983.55,1187.0 L985.97,1187.0 L988.39,1187.0 L990.81,1187.0 L993.23,1187.0 L995.65,1187.0 L998.06,1187.0 L1000.48,1187.0 L1002.90,1187.0 L1004.52,1187.0"/>
</g>
<g font-family='"Liberation Serif", serif' font-size="23.4" fill="#1a1a1a">
<text transform="translate(81.3,1197.0) scale(0.985,0.96)" text-anchor="end">0</text>
<text transform="translate(81.3,1141.4) scale(0.985,0.96)" text-anchor="end">2</text>
<text transform="translate(81.3,1085.8) scale(0.985,0.96)" text-anchor="end">4</text>
<text transform="translate(81.3,1030.2) scale(0.985,0.96)" text-anchor="end">6</text>
<text transform="translate(81.3,974.6) scale(0.985,0.96)" text-anchor="end">8</text>
<text transform="translate(81.3,919.0) scale(0.985,0.96)" text-anchor="end">10</text>
<text transform="translate(81.3,863.4) scale(0.985,0.96)" text-anchor="end">12</text>
<text transform="translate(81.3,807.8) scale(0.985,0.96)" text-anchor="end">14</text>
<text transform="translate(81.3,752.2) scale(0.985,0.96)" text-anchor="end">16</text>
<text transform="translate(89.8,1217.0) scale(0.985,1.0)" text-anchor="middle">0</text>
<text transform="translate(182.1,1217.0) scale(0.985,1.0)" text-anchor="middle">500</text>
<text transform="translate(274.5,1217.0) scale(0.985,1.0)" text-anchor="middle">1000</text>
<text transform="translate(366.8,1217.0) scale(0.985,1.0)" text-anchor="middle">1500</text>
<text transform="translate(459.1,1217.0) scale(0.985,1.0)" text-anchor="middle">2000</text>
<text transform="translate(551.5,1217.0) scale(0.985,1.0)" text-anchor="middle">2500</text>
<text transform="translate(643.8,1217.0) scale(0.985,1.0)" text-anchor="middle">3000</text>
</g>
<text transform="translate(20.7,718.6) scale(1,1.0125)" font-family='"Liberation Serif", serif' font-size="53.5" text-anchor="start" fill="#000">(c)</text>
<text transform="translate(210.6,1262.2) scale(0.993,1.065)" font-family='"Liberation Serif", serif' font-size="52.4" text-anchor="start" fill="#000">Grain Size / nm</text>
<text transform="translate(58.4,1085.6) rotate(-90) scale(0.995,1.03)" font-family='"Liberation Serif", serif' font-size="52.4" text-anchor="start" fill="#000">Frequency / %</text>
<g stroke="#000" stroke-width="3" stroke-linecap="butt">
<line x1="841.3" y1="1188.6" x2="841.3" y2="1179.6"/>
<line x1="919.1" y1="1188.6" x2="919.1" y2="1179.6"/>
<line x1="997.0" y1="1188.6" x2="997.0" y2="1179.6"/>
<line x1="1074.9" y1="1188.6" x2="1074.9" y2="1179.6"/>
<line x1="1152.7" y1="1188.6" x2="1152.7" y2="1179.6"/>
<line x1="1230.6" y1="1188.6" x2="1230.6" y2="1179.6"/>
<line x1="1308.5" y1="1188.6" x2="1308.5" y2="1179.6"/>
<line x1="802.3" y1="1188.6" x2="802.3" y2="1183.6"/>
<line x1="880.2" y1="1188.6" x2="880.2" y2="1183.6"/>
<line x1="958.1" y1="1188.6" x2="958.1" y2="1183.6"/>
<line x1="1035.9" y1="1188.6" x2="1035.9" y2="1183.6"/>
<line x1="1113.8" y1="1188.6" x2="1113.8" y2="1183.6"/>
<line x1="1191.7" y1="1188.6" x2="1191.7" y2="1183.6"/>
<line x1="1269.5" y1="1188.6" x2="1269.5" y2="1183.6"/>
</g>
<g stroke="#000" stroke-width="4" stroke-linecap="round">
<line x1="763.5" y1="1133.2" x2="773.0" y2="1133.2"/>
<line x1="763.5" y1="1077.7" x2="773.0" y2="1077.7"/>
<line x1="763.5" y1="1022.2" x2="773.0" y2="1022.2"/>
<line x1="763.5" y1="966.7" x2="773.0" y2="966.7"/>
<line x1="763.5" y1="911.2" x2="773.0" y2="911.2"/>
<line x1="763.5" y1="855.7" x2="773.0" y2="855.7"/>
<line x1="763.5" y1="800.2" x2="773.0" y2="800.2"/>
<line x1="763.5" y1="744.7" x2="773.0" y2="744.7"/>
<line x1="763.5" y1="1161.0" x2="768.5" y2="1161.0"/>
<line x1="763.5" y1="1105.5" x2="768.5" y2="1105.5"/>
<line x1="763.5" y1="1050.0" x2="768.5" y2="1050.0"/>
<line x1="763.5" y1="994.5" x2="768.5" y2="994.5"/>
<line x1="763.5" y1="939.0" x2="768.5" y2="939.0"/>
<line x1="763.5" y1="883.5" x2="768.5" y2="883.5"/>
<line x1="763.5" y1="828.0" x2="768.5" y2="828.0"/>
<line x1="763.5" y1="772.5" x2="768.5" y2="772.5"/>
<line x1="763.5" y1="717.0" x2="768.5" y2="717.0"/>
</g>
<rect x="763.5" y="689.5" width="552.30" height="499.10" fill="none" stroke="#000" stroke-width="5.0" stroke-linejoin="round"/>
<clipPath id="clipd"><rect x="761.00" y="687.00" width="557.30" height="502.70"/></clipPath>
<g clip-path="url(#clipd)" fill="#ffc896" stroke="#000" stroke-width="3.0" stroke-linejoin="round">
<rect x="772.72" y="1049.97" width="6.10" height="150.63"/>
<rect x="780.49" y="872.33" width="6.10" height="328.27"/>
<rect x="788.26" y="734.72" width="6.10" height="465.88"/>
<rect x="796.03" y="768.35" width="6.10" height="432.25"/>
<rect x="803.80" y="837.85" width="6.10" height="362.75"/>
<rect x="811.57" y="901.24" width="6.10" height="299.36"/>
<rect x="819.34" y="960.45" width="6.10" height="240.15"/>
<rect x="827.11" y="1010.49" width="6.10" height="190.11"/>
<rect x="834.88" y="1023.28" width="6.10" height="177.32"/>
<rect x="842.65" y="1109.46" width="6.10" height="91.14"/>
<rect x="850.42" y="1137.26" width="6.10" height="63.34"/>
<rect x="858.19" y="1157.83" width="6.10" height="42.77"/>
<rect x="865.96" y="1161.45" width="6.10" height="39.15"/>
<rect x="873.73" y="1183.13" width="6.10" height="17.47"/>
<rect x="889.27" y="1176.74" width="6.10" height="23.86"/>
</g>
<g transform="scale(0.75,1)" fill="none" stroke="#ff0000" stroke-width="4.9" stroke-linecap="butt" stroke-linejoin="round">
<path d="M1034.00,967.6 L1036.00,952.0 L1038.00,936.4 L1040.00,920.9 L1042.00,905.6 L1044.00,890.7 L1046.00,876.3 L1048.00,862.6 L1050.00,849.6 L1052.00,837.7 L1054.00,826.7 L1056.00,817.0 L1058.00,808.7 L1060.00,801.7 L1062.00,796.3 L1064.00,792.4 L1066.00,790.1 L1068.00,789.5 L1070.00,790.6 L1072.00,793.3 L1074.00,797.6 L1076.00,803.4 L1078.00,810.8 L1080.00,819.5 L1082.00,829.5 L1084.00,840.8 L1086.00,853.0 L1088.00,866.2 L1090.00,880.1 L1092.00,894.7 L1094.00,909.7 L1096.00,925.0 L1098.00,940.6 L1100.00,956.2 L1102.00,971.7 L1104.00,987.0 L1106.00,1002.0 L1108.00,1016.6 L1110.00,1030.7 L1112.00,1044.2 L1114.00,1057.2 L1116.00,1069.4 L1118.00,1081.0 L1120.00,1091.8 L1122.00,1101.9 L1124.00,1111.3 L1126.00,1119.9 L1128.00,1127.8 L1130.00,1135.0 L1132.00,1141.5 L1134.00,1147.4 L1136.00,1152.7 L1138.00,1157.5 L1140.00,1161.7 L1142.00,1165.4 L1144.00,1168.7 L1146.00,1171.5 L1148.00,1174.0 L1150.00,1176.2 L1152.00,1178.1 L1154.00,1179.7 L1156.00,1181.1 L1158.00,1182.3 L1160.00,1183.2 L1162.00,1184.1 L1164.00,1184.8 L1166.00,1185.4 L1168.00,1185.9 L1170.00,1186.3 L1172.00,1186.6 L1174.00,1186.9 L1176.00,1187.1 L1178.00,1187.3 L1180.00,1187.4 L1182.00,1187.6 L1184.00,1187.6 L1186.00,1187.7 L1188.00,1187.8 L1190.00,1187.8 L1192.00,1187.9 L1194.00,1187.9 L1196.00,1187.9 L1198.00,1187.9 L1200.00,1188.0 L1202.00,1188.0 L1204.00,1188.0 L1206.00,1188.0 L1208.00,1188.0 L1210.00,1188.0 L1212.00,1188.0 L1214.00,1188.0 L1216.00,1188.0 L1218.00,1188.0 L1220.00,1188.0 L1222.00,1188.0 L1224.00,1188.0 L1226.00,1188.0 L1228.00,1188.0 L1230.00,1188.0 L1232.00,1188.0 L1234.00,1188.0 L1236.00,1188.0 L1238.00,1188.0 L1240.00,1188.0 L1242.00,1188.0 L1244.00,1188.0 L1246.00,1188.0 L1248.00,1188.0 L1250.00,1188.0 L1252.00,1188.0 L1254.00,1188.0 L1256.00,1188.0 L1258.00,1188.0 L1260.00,1188.0 L1262.00,1188.0 L1264.00,1188.0 L1266.00,1188.0 L1268.00,1188.0 L1270.00,1188.0 L1272.00,1188.0 L1274.00,1188.0 L1276.00,1188.0 L1278.00,1188.0 L1280.00,1188.0 L1282.00,1188.0 L1284.00,1188.0 L1286.00,1188.0 L1288.00,1188.0 L1290.00,1188.0 L1292.00,1188.0 L1294.00,1188.0 L1296.00,1188.0 L1298.00,1188.0 L1300.00,1188.0 L1302.00,1188.0 L1304.00,1188.0 L1306.00,1188.0 L1308.00,1188.0 L1310.00,1188.0 L1312.00,1188.0 L1314.00,1188.0 L1316.00,1188.0 L1318.00,1188.0 L1320.00,1188.0 L1322.00,1188.0 L1324.00,1188.0 L1326.00,1188.0 L1328.00,1188.0 L1330.00,1188.0 L1332.00,1188.0 L1334.00,1188.0 L1336.00,1188.0 L1338.00,1188.0 L1340.00,1188.0 L1342.00,1188.0 L1344.00,1188.0 L1346.00,1188.0 L1348.00,1188.0 L1350.00,1188.0 L1352.00,1188.0 L1354.00,1188.0 L1356.00,1188.0 L1358.00,1188.0 L1360.00,1188.0 L1362.00,1188.0 L1364.00,1188.0 L1366.00,1188.0 L1368.00,1188.0 L1370.00,1188.0 L1372.00,1188.0 L1374.00,1188.0 L1376.00,1188.0 L1378.00,1188.0 L1380.00,1188.0 L1382.00,1188.0 L1384.00,1188.0 L1386.00,1188.0 L1388.00,1188.0 L1390.00,1188.0 L1392.00,1188.0 L1394.00,1188.0 L1396.00,1188.0 L1398.00,1188.0 L1400.00,1188.0 L1402.00,1188.0 L1404.00,1188.0 L1406.00,1188.0 L1408.00,1188.0 L1410.00,1188.0 L1412.00,1188.0 L1414.00,1188.0 L1416.00,1188.0 L1418.00,1188.0 L1420.00,1188.0 L1422.00,1188.0 L1424.00,1188.0 L1426.00,1188.0 L1428.00,1188.0 L1430.00,1188.0 L1432.00,1188.0 L1434.00,1188.0 L1436.00,1188.0 L1438.00,1188.0 L1440.00,1188.0 L1442.00,1188.0 L1444.00,1188.0 L1446.00,1188.0 L1448.00,1188.0 L1450.00,1188.0 L1452.00,1188.0 L1454.00,1188.0 L1456.00,1188.0 L1458.00,1188.0 L1460.00,1188.0 L1462.00,1188.0 L1464.00,1188.0 L1466.00,1188.0 L1468.00,1188.0 L1470.00,1188.0 L1472.00,1188.0 L1474.00,1188.0 L1476.00,1188.0 L1478.00,1188.0 L1480.00,1188.0 L1482.00,1188.0 L1484.00,1188.0 L1486.00,1188.0 L1488.00,1188.0 L1490.00,1188.0 L1492.00,1188.0 L1494.00,1188.0 L1496.00,1188.0 L1498.00,1188.0 L1500.00,1188.0 L1502.00,1188.0 L1504.00,1188.0 L1506.00,1188.0 L1508.00,1188.0 L1510.00,1188.0 L1512.00,1188.0 L1514.00,1188.0 L1516.00,1188.0 L1518.00,1188.0 L1520.00,1188.0 L1522.00,1188.0 L1524.00,1188.0 L1526.00,1188.0 L1528.00,1188.0 L1530.00,1188.0 L1532.00,1188.0 L1534.00,1188.0 L1536.00,1188.0 L1538.00,1188.0 L1540.00,1188.0 L1542.00,1188.0 L1544.00,1188.0 L1546.00,1188.0 L1548.00,1188.0 L1550.00,1188.0 L1552.00,1188.0 L1554.00,1188.0 L1556.00,1188.0 L1558.00,1188.0 L1560.00,1188.0 L1562.00,1188.0 L1564.00,1188.0 L1566.00,1188.0 L1568.00,1188.0 L1570.00,1188.0 L1572.00,1188.0 L1574.00,1188.0 L1576.00,1188.0 L1578.00,1188.0 L1580.00,1188.0 L1582.00,1188.0 L1584.00,1188.0 L1586.00,1188.0 L1588.00,1188.0 L1590.00,1188.0 L1592.00,1188.0 L1594.00,1188.0 L1596.00,1188.0 L1598.00,1188.0 L1600.00,1188.0 L1602.00,1188.0 L1604.00,1188.0 L1606.00,1188.0 L1608.00,1188.0 L1610.00,1188.0 L1612.00,1188.0 L1614.00,1188.0 L1616.00,1188.0 L1618.00,1188.0 L1620.00,1188.0 L1622.00,1188.0 L1624.00,1188.0 L1626.00,1188.0 L1628.00,1188.0 L1630.00,1188.0 L1632.00,1188.0 L1634.00,1188.0 L1636.00,1188.0 L1638.00,1188.0 L1640.00,1188.0 L1642.00,1188.0 L1644.00,1188.0 L1646.00,1188.0 L1648.00,1188.0 L1650.00,1188.0 L1652.00,1188.0 L1654.00,1188.0 L1656.00,1188.0 L1658.00,1188.0 L1660.00,1188.0 L1662.00,1188.0 L1664.00,1188.0 L1666.00,1188.0 L1668.00,1188.0 L1670.00,1188.0 L1672.00,1188.0 L1674.00,1188.0 L1676.00,1188.0 L1678.00,1188.0 L1680.00,1188.0 L1682.00,1188.0 L1684.00,1188.0 L1686.00,1188.0 L1688.00,1188.0 L1690.00,1188.0 L1692.00,1188.0 L1694.00,1188.0 L1696.00,1188.0 L1698.00,1188.0 L1700.00,1188.0 L1702.00,1188.0 L1704.00,1188.0 L1706.00,1188.0 L1708.00,1188.0 L1710.00,1188.0 L1712.00,1188.0 L1714.00,1188.0 L1716.00,1188.0 L1718.00,1188.0 L1720.00,1188.0 L1722.00,1188.0 L1724.00,1188.0 L1726.00,1188.0 L1728.00,1188.0 L1730.00,1188.0 L1732.00,1188.0 L1734.00,1188.0 L1736.00,1188.0 L1738.00,1188.0 L1740.00,1188.0 L1742.00,1188.0 L1744.00,1188.0 L1746.00,1188.0 L1748.00,1188.0 L1750.00,1188.0 L1752.00,1188.0 L1754.00,1188.0 L1754.40,1188.0"/>
</g>
<g font-family='"Liberation Serif", serif' font-size="23.4" fill="#1a1a1a">
<text transform="translate(755.7,1194.4) scale(0.985,0.96)" text-anchor="end">0</text>
<text transform="translate(755.7,1138.9) scale(0.985,0.96)" text-anchor="end">2</text>
<text transform="translate(755.7,1083.4) scale(0.985,0.96)" text-anchor="end">4</text>
<text transform="translate(755.7,1027.9) scale(0.985,0.96)" text-anchor="end">6</text>
<text transform="translate(755.7,972.4) scale(0.985,0.96)" text-anchor="end">8</text>
<text transform="translate(755.7,916.9) scale(0.985,0.96)" text-anchor="end">10</text>
<text transform="translate(755.7,861.4) scale(0.985,0.96)" text-anchor="end">12</text>
<text transform="translate(755.7,805.9) scale(0.985,0.96)" text-anchor="end">14</text>
<text transform="translate(755.7,750.4) scale(0.985,0.96)" text-anchor="end">16</text>
<text transform="translate(763.4,1216.0) scale(0.985,0.98)" text-anchor="middle">0</text>
<text transform="translate(841.3,1216.0) scale(0.985,0.98)" text-anchor="middle">500</text>
<text transform="translate(919.1,1216.0) scale(0.985,0.98)" text-anchor="middle">1000</text>
<text transform="translate(997.0,1216.0) scale(0.985,0.98)" text-anchor="middle">1500</text>
<text transform="translate(1074.9,1216.0) scale(0.985,0.98)" text-anchor="middle">2000</text>
<text transform="translate(1152.7,1216.0) scale(0.985,0.98)" text-anchor="middle">2500</text>
<text transform="translate(1230.6,1216.0) scale(0.985,0.98)" text-anchor="middle">3000</text>
<text transform="translate(1308.5,1216.0) scale(0.985,0.98)" text-anchor="middle">3500</text>
</g>
<text transform="translate(692.2,719.1) scale(1,1.0125)" font-family='"Liberation Serif", serif' font-size="53.5" text-anchor="start" fill="#000">(d)</text>
<text transform="translate(879.2,1259.2) scale(0.989,1.065)" font-family='"Liberation Serif", serif' font-size="52.4" text-anchor="start" fill="#000">Grain Size / nm</text>
<text transform="translate(730.0,1078.6) rotate(-90) scale(0.994,1.03)" font-family='"Liberation Serif", serif' font-size="52.4" text-anchor="start" fill="#000">Frequency / %</text>
</svg>
</body></html>
